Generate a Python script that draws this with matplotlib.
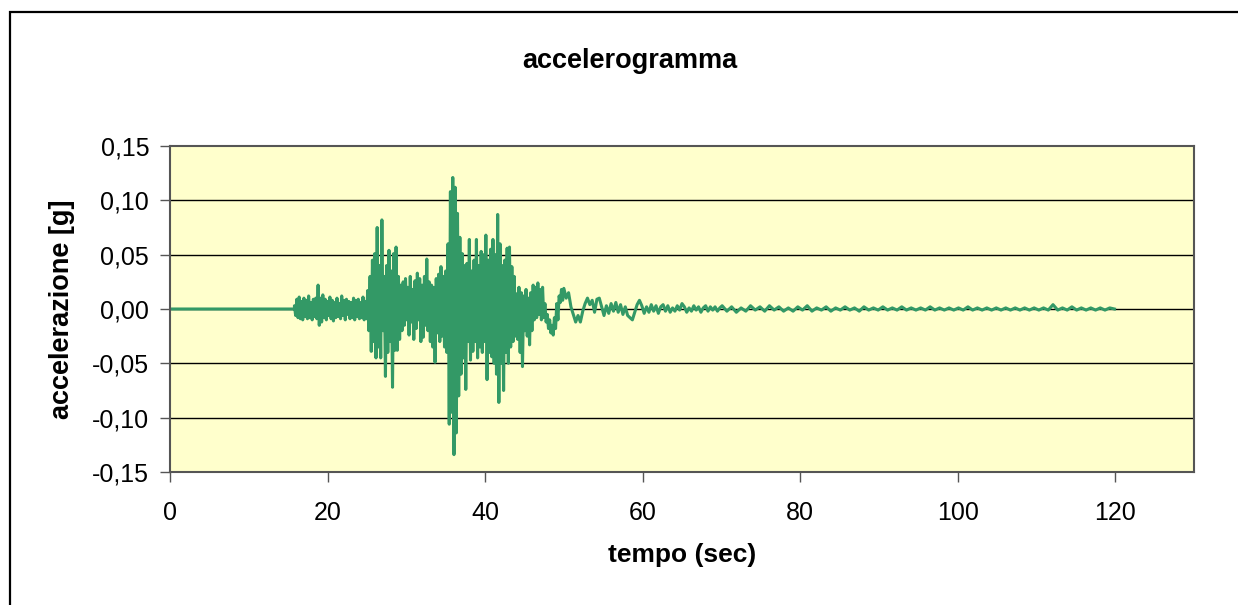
import numpy as np
import matplotlib
matplotlib.use("Agg")
import matplotlib.pyplot as plt
from matplotlib.patches import Rectangle

plt.rcParams['font.family'] = ['Liberation Sans', 'DejaVu Sans']

# accelerogram, values in thousandths of g
# quiet part before the event
quiet_t = [0.0, 15.8]
quiet_a = [0, 0]

# strong motion, one sample every 0.15 s from 15.8 s
strong_t0 = 15.8
strong_dt = 0.15
strong_a = [
    3, -6, 9, -8, 11, -9, 7, -10, 10, -7, 8, -9, 12, -8, 6, -10, 9, -7,
    10, -9, 22, -15, 10,
    -12, 13, -8, 9, -10, 7, -6, 11, -9, 8, -11, 6, -8, 10, -7, 5, -9,
    12, -6, 8, -10, 9, -5, 7, -9, 6, -8, 10, -10, 8, -7, 9, -9, 6, -8,
    11, -10, 7, -9,
    17, -20, 30, -39, 45, -30, 51, -45, 75, -35, 40, -45, 82, -20, 30, -62,
    40, -40, 54, -30, 35, -72, 51, -38, 57, -38, 30, -28, 22, -20,
    25, -15, 28, -10, 20, -24, 30, -12, 18, -28, 26, -18, 33, -10, 28, -30,
    22, -26, 30, -15, 46, -20, 25, -30, 22, -35, 20, -49, 28, -22, 32, -30,
    39, -25, 30, -35, 35, -40,
    60, -106, 108, -95, 121, -134, 112, -114, 88, -80, 66, -60, 51, -45, 40, -74,
    42, -30, 64, -47, 35, -39, 45, -30, 64, -45, 40, -35, 53, -40, 50, -30,
    68, -65, 45, -40, 55, -44, 64, -50, 50, -60, 87, -86, 60, -50, 40, -75,
    45, -40, 56, -50, 57, -35, 39, -30, 30, -25, 14, -28, 20, -40, 15, -53,
    12, -20, 18, -25, 10, -33, 15, -20, 22, -10, 20, -8, 24, -5, 18, -10,
    20, -8, 5, -12, -5, -18, -10, -22, -15, -24, -8, -18, 5, -10, 12, 6,
    18, 8,
]

# decaying tail, one sample every 0.3 s from 50 s
tail_t0 = 50.0
tail_dt = 0.3
tail_a = [
    19, 10, 15, 2, -5, -12, -6, -12, -2, 5, 10, 4, 8, -3, 9, 10, 2, -6, 3, -4,
    5, -2, 6, -3, 4, -5, 2, -6, -8, -10, -3, 4, 8, 3, -4, 2, -3, 4, -2, 3,
    -4, 2, 4, -2, 3, -3, 1, -2, 3, -1, 5, 2, -3, 1, -2, 3, -1, 2, -3, 1,
    3, -2, 2, -1, 2, -2, 1,
]

# coda, one sample every 0.6 s from 70 s
coda_t0 = 70.1
coda_dt = 0.6
coda_a = [
    3, -2, 2, -3, 1, -2, 3, -1, 2, -2, 3, -1, 2, -2, 1, -2, 2, -1, 3, -2,
    1, -1, 2, -2, 1, -1, 2, -1, 1, -2, 2, -1, 1, -1, 2, -1, 1, -1, 2, -1,
    1, -1, 1, -1, 2, -1, 1, -1, 1, -1, 1, -1, 2, -1, 1, -1, 1, -1, 1, -1,
    1, -1, 1, -1, 1, -1, 1, -1, 1, -1, 4, -1, 1, -1, 2, -1, 1, -1, 1, -1,
    1, -1, 1, 0,
]

yticks = [-0.15, -0.10, -0.05, 0.0, 0.05, 0.10, 0.15]
ytick_labels = ["-0,15", "-0,10", "-0,05", "0,00", "0,05", "0,10", "0,15"]
xticks = [0, 20, 40, 60, 80, 100, 120]

t = np.concatenate([
    quiet_t,
    strong_t0 + strong_dt * np.arange(len(strong_a)),
    tail_t0 + tail_dt * np.arange(len(tail_a)),
    coda_t0 + coda_dt * np.arange(len(coda_a)),
])
a = np.concatenate([quiet_a, strong_a, tail_a, coda_a]) / 1000.0

fig = plt.figure(figsize=(12.38, 6.05), dpi=100)
fig.patches.append(Rectangle((10 / 1238, -0.05), 1.2, 0.98 + 0.05, transform=fig.transFigure,
                             fill=False, edgecolor='black', linewidth=1.6))

ax = fig.add_axes([170 / 1238, 1 - 472 / 605, 1024 / 1238, 326 / 605])
ax.set_facecolor('#FFFFCC')
ax.plot(t, a, color='#339966', linewidth=2.2)

ax.set_xlim(0, 130)
ax.set_ylim(-0.15, 0.15)
ax.set_yticks(yticks)
ax.set_yticklabels(ytick_labels)
ax.set_xticks(xticks)
for y in yticks[1:-1]:
    ax.axhline(y, color='black', linewidth=1.0, zorder=1)

for s in ax.spines.values():
    s.set_color('#555555')
    s.set_linewidth(1.5)
ax.tick_params(axis='both', direction='out', length=7, width=1, color='#555555',
               labelsize=18)
ax.tick_params(axis='y', pad=8)
ax.tick_params(axis='x', pad=14)

ax.set_xlabel("tempo (sec)", fontsize=19, fontweight='bold', labelpad=13)
ax.set_ylabel("accelerazione [g]", fontsize=19.5, fontweight='bold', labelpad=12)
fig.text(630 / 1238, 1 - 61 / 605, "accelerogramma", fontsize=19.5, fontweight='bold',
         ha='center', va='center')

fig.savefig("out.png", dpi=100)
